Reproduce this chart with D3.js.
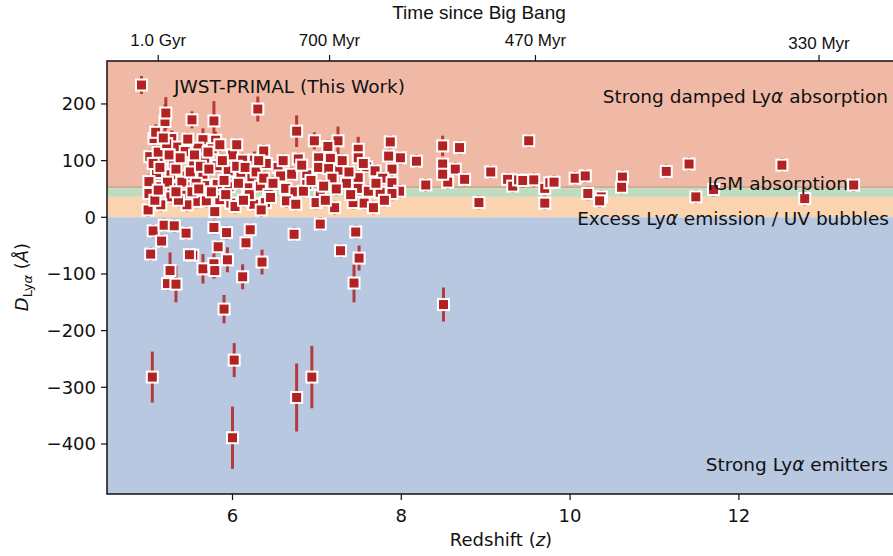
<!DOCTYPE html>
<html><head><meta charset="utf-8">
<script src="https://cdn.jsdelivr.net/npm/d3@7"></script>
<style>body{margin:0;background:#fff}svg{display:block}</style>
</head><body><svg id="c" width="893" height="556"></svg>
<script>
// ---- data (redshift z, D_Lya in Angstrom, 1-sigma error) ----
const zVals = [
 5.20,5.21,5.52,5.78,6.30,5.07,5.28,5.65,5.80,5.09,5.35,5.44,5.59,5.76,6.00,6.12,6.26,5.02,5.17,5.30,
 5.54,5.67,5.82,5.95,6.10,6.23,5.10,5.27,5.46,5.65,5.01,5.15,5.28,5.44,5.67,5.82,5.96,6.18,5.01,5.27,
 5.42,5.58,5.69,5.85,5.98,6.25,5.15,5.00,5.46,5.79,6.03,
 5.06,5.12,5.14,5.22,5.25,5.33,5.38,5.40,5.50,5.55,5.57,5.62,5.72,5.75,5.88,5.90,5.92,6.05,6.07,6.15,
 6.20,6.28,6.33,5.36,5.52,5.23,5.08,5.71,5.85,6.05,5.47,5.18,5.12,5.60,5.33,6.13,6.40,6.43,
 6.37,6.31,6.76,6.97,7.25,7.13,7.87,7.49,6.78,7.02,7.16,7.49,7.85,7.99,6.54,6.70,6.88,7.02,7.14,7.27,
 7.59,7.69,7.89,6.37,6.57,6.88,7.18,7.35,7.49,7.78,7.89,7.98,6.63,6.74,6.84,7.04,7.23,7.49,7.61,7.75,
 7.89,6.39,6.64,6.75,6.99,7.21,7.43,7.56,7.67,6.34,
 6.48,6.60,6.82,6.93,7.08,7.30,7.40,7.55,7.70,7.80,6.45,7.10,7.38,
 8.18,8.29,8.49,8.69,9.51,8.49,8.64,8.55,8.75,8.49,9.06,8.92,9.26,9.32,9.39,9.44,9.57,9.70,9.76,9.81,
 9.70,10.06,10.18,10.21,10.37,10.35,10.62,10.61,11.14,11.41,11.49,11.70,12.51,12.78,13.36,
 5.03,5.06,5.16,5.19,5.31,5.45,5.26,5.23,5.33,5.53,5.49,5.65,5.78,5.79,5.78,5.83,5.93,5.94,5.90,6.12,
 6.16,6.21,6.35,6.73,7.04,7.28,7.46,7.50,7.44,
 5.05,6.02,6.00,6.76,6.94,8.50
];
const dVals = [
 169,184,172,170,191,139,139,137,136,150,124,116,122,121,110,101,101,107,104,95,
 92,101,91,82,76,71,79,75,73,76,63,54,52,54,56,58,54,52,42,36,
 39,28,29,31,25,23,22,13,22,10,19,
 95,115,88,130,110,85,105,62,80,110,60,90,85,45,100,65,40,90,60,88,
 40,80,55,30,45,62,30,115,128,128,138,140,48,50,45,30,95,40,
 117,100,152,135,135,125,133,120,103,105,104,105,108,105,88,76,75,88,86,83,
 89,82,85,69,73,58,69,60,70,69,61,46,51,45,46,38,50,51,46,44,
 42,26,29,23,26,17,26,25,17,13,
 60,100,92,65,55,100,40,95,60,30,35,30,80,
 99,57,126,123,135,94,85,62,67,76,80,26,67,55,66,65,66,51,61,62,
 25,69,73,42,36,29,71,53,81,94,36,49,92,33,57,
 -65,-24,-42,-14,-15,-28,-94,-117,-118,-67,-66,-91,-82,-94,-18,-52,-27,-75,-162,-105,
 -45,-22,-79,-30,-12,-59,-26,-72,-116,
 -282,-252,-389,-318,-282,-154
];
const errVals = [
 30,28,15,35,22,14,14,20,15,14,12,12,12,12,12,12,15,12,12,12,
 12,12,12,12,12,12,12,12,12,12,12,12,12,12,12,12,12,12,12,12,
 12,12,12,12,12,12,12,12,12,12,12,
 12,12,12,12,12,12,12,12,12,12,12,12,12,12,12,12,12,12,12,12,
 12,12,12,12,12,12,12,12,12,12,12,12,12,12,12,12,12,12,
 12,12,28,15,25,12,12,22,12,12,12,12,12,12,12,12,12,12,12,12,
 12,12,12,12,12,12,12,12,12,12,12,12,12,12,12,12,12,12,12,12,
 12,12,12,12,12,12,12,12,12,12,
 12,12,12,12,12,12,12,12,12,12,12,12,12,
 12,12,18,12,12,12,12,12,12,12,12,12,12,12,12,12,12,12,12,12,
 12,12,12,12,12,12,12,12,12,12,12,12,12,12,12,
 12,12,12,12,12,12,32,12,32,12,12,26,26,12,12,12,12,22,25,22,
 12,12,22,12,12,12,12,22,34,
 45,30,55,60,55,30
];
const yTicks = [-400,-300,-200,-100,0,100,200];
const xTicks = [6,8,10,12];
const topTickZ = [5.12,7.15,9.59,12.95];
const topTickLabels = ["1.0 Gyr","700 Myr","470 Myr","330 Myr"];
const bands = [
 {lo:55, hi:300, color:"#f0b9a6"},
 {lo:51, hi:55, color:"#caa98c"},
 {lo:36, hi:51, color:"#c0dcc0"},
 {lo:0, hi:36, color:"#fbd4af"},
 {lo:-500, hi:0, color:"#b8c8e1"}
];

// ---- layout ----
const L=107, R=895, T=61, B=494;
const svg = d3.select("#c");
const x = d3.scaleLinear().domain([4.513,13.85]).range([L,R]);
const y = d3.scaleLinear().domain([-488.3,275.8]).range([B,T]);
const FONT = "DejaVu Sans, sans-serif";
const col = "#b22222";

const clip = svg.append("defs").append("clipPath").attr("id","pc");
clip.append("rect").attr("x",L).attr("y",T).attr("width",R-L).attr("height",B-T);

const g = svg.append("g").attr("clip-path","url(#pc)");
g.selectAll("rect.band").data(bands).join("rect")
 .attr("x",L).attr("width",R-L)
 .attr("y",d=>y(Math.min(d.hi,275.8)))
 .attr("height",d=>y(Math.max(d.lo,-488.3))-y(Math.min(d.hi,275.8)))
 .attr("fill",d=>d.color);

// region labels
const lab = svg.append("g").attr("font-family",FONT).attr("font-size",18.5).attr("fill","#111");
function addLab(xp,yp,parts,anchor){
  const t = lab.append("text").attr("x",xp).attr("y",yp).attr("text-anchor",anchor||"end");
  parts.forEach(p=>{const s=t.append("tspan").text(p[0]); if(p[1]) s.attr("font-style","italic");});
}
addLab(888,103,[["Strong damped Ly"],["α",1],[" absorption"]]);
addLab(889,225,[["Excess Ly"],["α",1],[" emission / UV bubbles"]]);
addLab(888,471,[["Strong Ly"],["α",1],[" emitters"]]);

const pts = zVals.map((z,i)=>({z, d:dVals[i], e:errVals[i]}));
g.selectAll("line.err").data(pts).join("line")
 .attr("x1",d=>x(d.z)).attr("x2",d=>x(d.z))
 .attr("y1",d=>y(d.d-d.e)).attr("y2",d=>y(d.d+d.e))
 .attr("stroke",col).attr("stroke-width",3).attr("stroke-opacity",0.85);
g.selectAll("rect.pt").data(pts).join("rect")
 .attr("x",d=>x(d.z)-5.5).attr("y",d=>y(d.d)-5.5)
 .attr("width",11).attr("height",11)
 .attr("fill",col).attr("stroke","#fff").attr("stroke-width",2);

addLab(848,190,[["IGM absorption"]]);

// legend
svg.append("line").attr("x1",141.5).attr("x2",141.5).attr("y1",76).attr("y2",94)
 .attr("stroke",col).attr("stroke-width",3).attr("stroke-opacity",0.85);
svg.append("rect").attr("x",136).attr("y",79.5).attr("width",11).attr("height",11)
 .attr("fill",col).attr("stroke","#fff").attr("stroke-width",2);
addLab(174,93,[["JWST-PRIMAL (This Work)"]],"start");

// axes
const ax = svg.append("g").attr("font-family",FONT).attr("font-size",18).attr("fill","#111");
ax.selectAll("line.yt").data(yTicks).join("line")
 .attr("x1",L-6).attr("x2",L).attr("y1",d=>y(d)).attr("y2",d=>y(d)).attr("stroke","#111").attr("stroke-width",1.2);
ax.selectAll("text.yt").data(yTicks).join("text")
 .attr("x",L-11).attr("y",d=>y(d)).attr("dy","0.36em").attr("text-anchor","end")
 .text(d=>d3.format("d")(d).replace("-","\u2212"));
ax.selectAll("line.xt").data(xTicks).join("line")
 .attr("x1",d=>x(d)).attr("x2",d=>x(d)).attr("y1",B).attr("y2",B+6).attr("stroke","#111").attr("stroke-width",1.2);
ax.selectAll("text.xt").data(xTicks).join("text")
 .attr("x",d=>x(d)).attr("y",522).attr("text-anchor","middle").text(d=>d);
const xl = ax.append("text").attr("x",501).attr("y",546).attr("text-anchor","middle");
xl.append("tspan").text("Redshift (");
xl.append("tspan").attr("font-style","italic").text("z");
xl.append("tspan").text(")");

const yl = ax.append("text").attr("transform","translate(28,277) rotate(-90)").attr("text-anchor","middle");
yl.append("tspan").attr("font-style","italic").text("D");
yl.append("tspan").attr("font-size",13).attr("dy",4).text("Ly");
yl.append("tspan").attr("font-size",13).attr("font-style","italic").text("α");
yl.append("tspan").attr("dy",-4).text(" (");
yl.append("tspan").attr("font-style","italic").text("Å");
yl.append("tspan").text(")");

// top axis
const tp = svg.append("g").attr("font-family","Liberation Sans, Arial, sans-serif").attr("fill","#111");
tp.selectAll("line").data(topTickZ).join("line")
 .attr("x1",d=>x(d)).attr("x2",d=>x(d)).attr("y1",T-6).attr("y2",T).attr("stroke","#111").attr("stroke-width",1.2);
tp.selectAll("text.tt").data(topTickZ).join("text")
 .attr("x",d=>x(d)).attr("y",(d,i)=>i===3?49:46).attr("text-anchor","middle").attr("font-size",17)
 .text((d,i)=>topTickLabels[i]);
tp.append("text").attr("x",479).attr("y",19).attr("text-anchor","middle").attr("font-size",19).text("Time since Big Bang");

// frame
svg.append("path").attr("d",`M${L},${T}H${R}V${B}H${L}Z`).attr("fill","none").attr("stroke","#111").attr("stroke-width",1.5);
</script></body></html>
